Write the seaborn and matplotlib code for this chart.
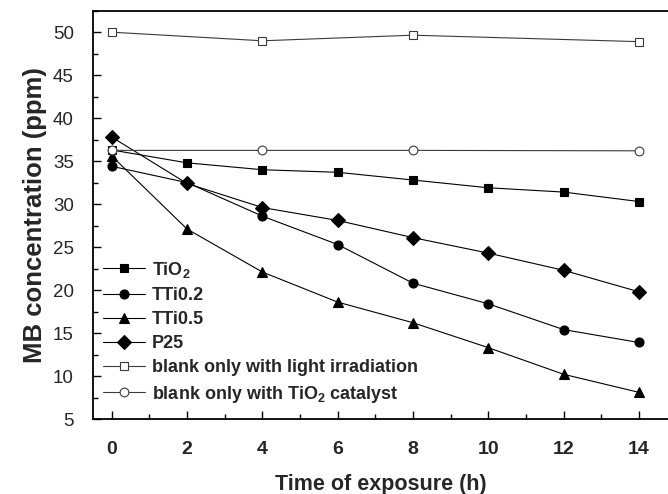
import numpy as np
import pandas as pd
import matplotlib
matplotlib.use("Agg")
import matplotlib.pyplot as plt
from matplotlib.ticker import MultipleLocator
import seaborn as sns

# ---- data ----
time_h = [0, 2, 4, 6, 8, 10, 12, 14]
time_blank = [0, 4, 8, 14]

tio2 = [36.3, 34.8, 34.0, 33.7, 32.8, 31.9, 31.4, 30.3]
tti02 = [34.4, 32.5, 28.6, 25.3, 20.8, 18.4, 15.4, 13.9]
tti05 = [35.6, 27.1, 22.1, 18.6, 16.2, 13.3, 10.2, 8.1]
p25 = [37.8, 32.4, 29.6, 28.1, 26.1, 24.3, 22.3, 19.8]
blank_light = [50.0, 49.0, 49.65, 48.9]
blank_cat = [36.25, 36.25, 36.25, 36.2]

labels = ["TiO$_2$", "TTi0.2", "TTi0.5", "P25",
          "blank only with light irradiation",
          "blank only with TiO$_2$ catalyst"]

xticks = [0, 2, 4, 6, 8, 10, 12, 14]
yticks = [5, 10, 15, 20, 25, 30, 35, 40, 45, 50]

frames = []
for lab, xs, ys in zip(labels,
                       [time_h, time_h, time_h, time_h, time_blank, time_blank],
                       [tio2, tti02, tti05, p25, blank_light, blank_cat]):
    frames.append(pd.DataFrame({"time": xs, "conc": ys, "series": lab}))
df = pd.concat(frames, ignore_index=True)

sns.set_theme(style="ticks")
plt.rcParams["font.family"] = ["Liberation Sans", "DejaVu Sans"]
plt.rcParams["mathtext.fontset"] = "custom"
plt.rcParams["mathtext.rm"] = "Liberation Sans:bold"
plt.rcParams["mathtext.it"] = "Liberation Sans:bold"
plt.rcParams["mathtext.bf"] = "Liberation Sans:bold"

fig = plt.figure(figsize=(6.68, 4.94), dpi=100)
ax = fig.add_axes([92.7 / 668, 75 / 494, 1 - 92.7 / 668, (419 - 10.7) / 494])

styles = {
    labels[0]: dict(marker="s", ms=6.0, mfc="black", mec="black", color="black"),
    labels[1]: dict(marker="o", ms=6.5, mfc="black", mec="black", color="black"),
    labels[2]: dict(marker="^", ms=7.0, mfc="black", mec="black", color="black"),
    labels[3]: dict(marker="D", ms=6.7, mfc="black", mec="black", color="black"),
    labels[4]: dict(marker="s", ms=5.8, mfc="white", mec="#3a3a3a", color="#3a3a3a"),
    labels[5]: dict(marker="o", ms=6.3, mfc="white", mec="#3a3a3a", color="#3a3a3a"),
}

for lab in labels:
    st = styles[lab]
    sns.lineplot(data=df[df["series"] == lab], x="time", y="conc", ax=ax,
                 label=lab, color=st["color"], marker=st["marker"],
                 markersize=st["ms"], markerfacecolor=st["mfc"],
                 markeredgecolor=st["mec"], markeredgewidth=0.8,
                 linewidth=0.8, estimator=None, errorbar=None, zorder=3)

ax.set_xlim(-0.505, (668 - 111.7) / 37.66)
ax.set_ylim(5, 52.5)
ax.set_xticks(xticks)
ax.set_yticks(yticks)
ax.xaxis.set_minor_locator(MultipleLocator(1))
ax.yaxis.set_minor_locator(MultipleLocator(2.5))

ax.tick_params(which="both", direction="in", top=False, right=False, width=1.0,
               color="black")
ax.tick_params(which="major", length=5.8)
ax.tick_params(which="minor", length=3.4)
ax.tick_params(axis="x", which="major", pad=16, labelsize=14)
ax.tick_params(axis="y", which="major", pad=13.5, labelsize=13.5)
for t in ax.get_xticklabels():
    t.set_fontweight("bold")

for side in ["left", "bottom", "top"]:
    ax.spines[side].set_linewidth(1.3)
    ax.spines[side].set_color("black")
ax.spines["right"].set_visible(False)

ax.set_xlabel("Time of exposure (h)", fontsize=15.5, fontweight="bold", labelpad=11)
ax.set_ylabel("MB concentration (ppm)", fontsize=18.5, fontweight="bold", labelpad=4)

leg = ax.legend(loc="lower left", bbox_to_anchor=((103 - 92.7) / (668 - 92.7), 0.035),
                frameon=False, borderaxespad=0, borderpad=0,
                handlelength=2.35, handletextpad=0.35, labelspacing=0.4,
                prop={"weight": "bold", "size": 13})

fig.savefig("out.png", dpi=100)
